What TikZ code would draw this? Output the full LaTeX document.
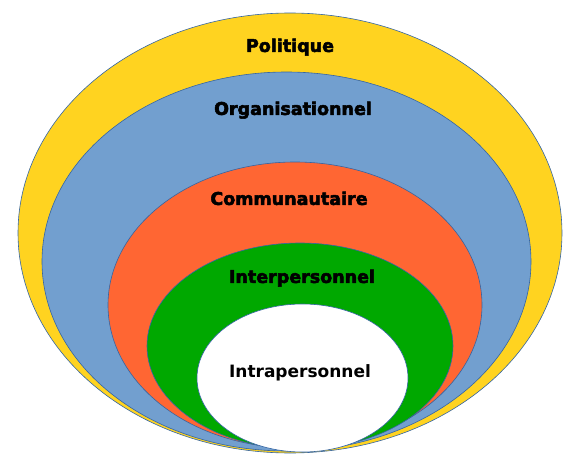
\documentclass[tikz,border=0pt]{standalone}
\usepackage{fontspec}
\setmainfont{DejaVu Sans}
\newfontfamily\heavyfont[FakeBold=3]{DejaVu Sans Bold}
\newfontfamily\intrafont{DejaVu Sans Bold}
\usepackage{tikz}
\usetikzlibrary{positioning, shapes.geometric}
\definecolor{politcol}{HTML}{FFD320}
\definecolor{orgcol}{HTML}{729FCF}
\definecolor{commcol}{HTML}{FF6633}
\definecolor{intercol}{HTML}{00A800}
\definecolor{rimcol}{HTML}{3465A4}

\begin{document}
\begin{tikzpicture}[x = 1pt, y = -1pt, layer/.style={ellipse, draw = rimcol, line width = 0.6pt, inner sep = 0pt}, tag/.style={inner sep = 0pt, text height = 13pt, text depth = 4pt, font = \heavyfont\fontsize{17.5}{20}\selectfont}]
  \useasboundingbox (0,0) rectangle (574,463);
  % nodes
  \node [layer, fill = politcol, minimum width = 544pt, minimum height = 440pt] (politique) at (290,233) {};
  \node [layer, fill = orgcol, minimum width = 489pt, minimum height = 379pt] (organisation) at (286.5,261.5) {};
  \node [layer, fill = commcol, minimum width = 374pt, minimum height = 286pt] (communaute) at (295,305) {};
  \node [layer, fill = intercol, minimum width = 306pt, minimum height = 206pt] (inter) at (300,346) {};
  \node [layer, fill = white, minimum width = 211pt, minimum height = 148pt] (intra) at (302.5,378) {};

  % labels
  \node [tag] [below = 26pt of politique.north] (politique-t) {Politique};
  \node [tag, xshift = 6.5pt] [below = 30pt of organisation.north] (organisation-t) {Organisationnel};
  \node [tag, xshift = -6pt] [below = 30pt of communaute.north] (communaute-t) {Communautaire};
  \node [tag, xshift = 2pt] [below = 27pt of inter.north] (inter-t) {Interpersonnel};
  \node [tag, xshift = -2.5pt, font = \intrafont\fontsize{17}{20}\selectfont] [below = 61pt of intra.north] (intra-t) {Intrapersonnel};
\end{tikzpicture}
\end{document}
